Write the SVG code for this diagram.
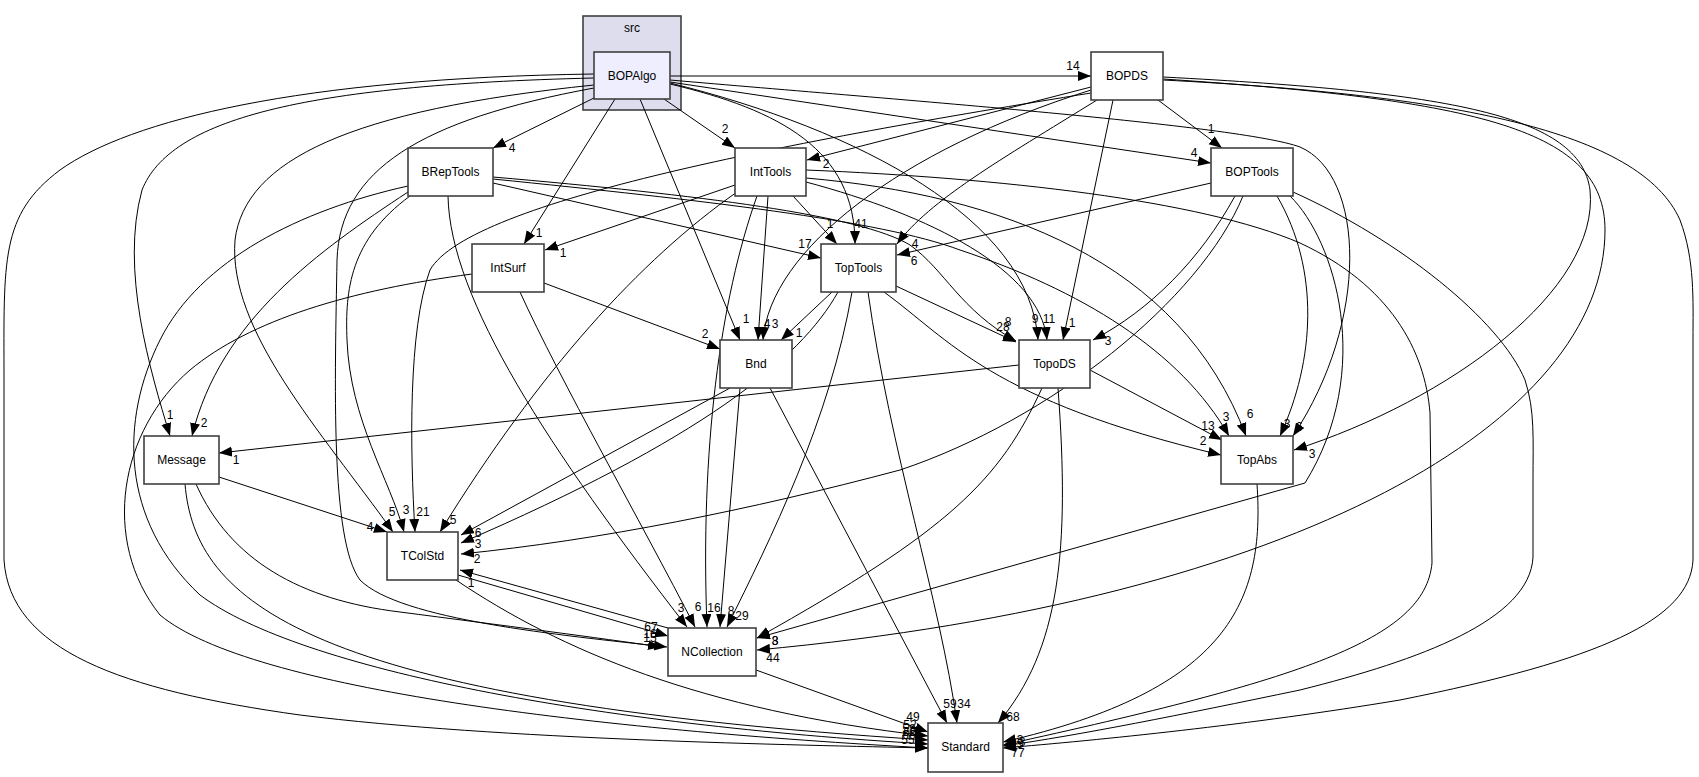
<svg xmlns="http://www.w3.org/2000/svg" width="1699" height="777" viewBox="0 0 1699 777">
<defs>
<marker id="a" markerUnits="userSpaceOnUse" markerWidth="14" markerHeight="11" refX="13" refY="5" orient="auto">
<path d="M0,0 L13,5 L0,10 z" fill="#000"/>
</marker>
<style>
text{font-family:"Liberation Sans",Arial,sans-serif;font-size:12px;fill:#000}
.n rect{fill:#fff;stroke:#404040;stroke-width:1.6}
.n text{text-anchor:middle}
.e path{fill:none;stroke:#000;stroke-width:1;marker-end:url(#a)}
.e text{text-anchor:middle}
</style>
</defs>
<rect width="1699" height="777" fill="#fff"/>
<g id="cluster_src">
<rect x="583" y="16" width="98" height="94" fill="#ddddee" stroke="#404040" stroke-width="1.6"/>
<text x="632" y="32" text-anchor="middle">src</text>
</g>
<g id="edges" class="e">
<path d="M670,76 L1091,76"/><text x="1073" y="70">14</text>
<path d="M596,97 L493,148"/><text x="512" y="152">4</text>
<path d="M664,99 L735,148"/><text x="725" y="133">2</text>
<path d="M615,99 L524,244"/><text x="539" y="237">1</text>
<path d="M640,99 L740,340"/><text x="746" y="323">1</text>
<path d="M670,84 C780,110 855,150 855,244"/><text x="861" y="228">41</text>
<path d="M670,83 C860,130 1030,220 1038,340"/><text x="1035" y="323">9</text>
<path d="M670,82 L1211,163"/><text x="1194" y="157">4</text>
<path d="M670,80 C900,100 1240,125 1300,147 C1365,175 1370,320 1293,436"/><text x="1299" y="431">6</text>
<path d="M594,78 C300,85 170,120 142,190 C120,270 150,370 170,436"/><text x="170" y="419">1</text>
<path d="M594,85 C350,110 245,160 235,240 C228,330 320,430 393,532"/><text x="392" y="516">5</text>
<path d="M594,88 C420,120 340,170 337,260 C335,380 330,540 360,580 C400,620 560,635 667,647"/><text x="650" y="642">15</text>
<path d="M594,74 C300,78 130,120 60,170 C0,215 4,260 4,380 L4,560 C10,650 120,690 300,715 C500,740 800,745 928,748"/><text x="908" y="744">55</text>
<path d="M1091,87 L807,160"/><text x="826" y="168">2</text>
<path d="M1158,100 L1222,148"/><text x="1211" y="133">1</text>
<path d="M1097,100 C1000,160 930,200 897,244"/><text x="915" y="248">4</text>
<path d="M1091,90 C900,150 770,250 763,340"/><text x="775" y="328">3</text>
<path d="M1113,100 L1063,340"/><text x="1072" y="327">1</text>
<path d="M1091,93 C800,140 470,200 430,270 C408,330 410,450 415,532"/><text x="423" y="516">21</text>
<path d="M1163,77 C1450,92 1580,115 1590,190 C1600,290 1450,400 1294,450"/><text x="1312" y="458">3</text>
<path d="M1163,79 C1480,100 1605,130 1605,230 C1605,420 1300,600 757,650"/><text x="773" y="662">44</text>
<path d="M1163,80 C1450,95 1640,130 1680,220 C1695,260 1693,300 1693,340 L1693,560 C1690,620 1600,660 1400,700 C1250,725 1100,740 1003,748"/><text x="1018" y="757">77</text>
<path d="M1211,183 L897,255"/><text x="914" y="265">6</text>
<path d="M1235,196 C1200,260 1150,310 1093,340"/><text x="1108" y="345">3</text>
<path d="M1277,196 C1320,270 1315,360 1280,436"/><text x="1287" y="428">3</text>
<path d="M1243,196 C1200,300 1050,420 900,470 C750,510 600,540 461,554"/><text x="477" y="563">2</text>
<path d="M1290,196 C1335,240 1375,370 1305,483 L757,638"/><text x="775" y="645">3</text>
<path d="M1293,192 C1400,240 1500,320 1525,380 C1535,410 1533,440 1533,480 L1533,557 C1530,620 1420,660 1300,690 C1180,715 1080,735 1003,746"/><text x="1020" y="748">5</text>
<path d="M735,185 L545,250"/><text x="563" y="257">1</text>
<path d="M793,196 L837,244"/><text x="830" y="228">1</text>
<path d="M768,196 L758,340"/><text x="767" y="328">4</text>
<path d="M806,182 C930,215 1040,270 1047,340"/><text x="1049" y="323">11</text>
<path d="M806,178 C1000,195 1180,260 1246,436"/><text x="1250" y="418">6</text>
<path d="M737,192 C640,260 540,370 440,532"/><text x="453" y="524">5</text>
<path d="M757,196 C720,300 700,450 707,627"/><text x="714" y="612">16</text>
<path d="M806,170 C1000,178 1200,200 1300,243 C1390,285 1425,350 1430,413 L1432,563 C1425,640 1300,680 1003,745"/><text x="1020" y="744">3</text>
<path d="M408,192 C320,250 220,320 192,436"/><text x="204" y="427">2</text>
<path d="M410,196 C350,240 345,290 347,340 C350,420 390,480 404,532"/><text x="406" y="514">3</text>
<path d="M448,196 C450,300 550,450 687,627"/><text x="681" y="612">3</text>
<path d="M408,186 C300,210 200,260 160,340 C120,420 120,520 200,595 C300,670 600,725 928,744"/><text x="909" y="739">66</text>
<path d="M493,183 L821,258"/><text x="805" y="248">17</text>
<path d="M493,177 C700,195 860,215 910,245 C945,270 960,310 1016,341"/><text x="1008" y="326">8</text>
<path d="M493,179 C700,200 880,220 960,250 C1080,290 1180,350 1229,436"/><text x="1226" y="421">3</text>
<path d="M544,283 L720,349"/><text x="705" y="338">2</text>
<path d="M520,292 C560,380 640,520 695,627"/><text x="698" y="611">6</text>
<path d="M472,274 C350,290 250,320 190,370 C120,430 100,540 160,615 C250,690 600,730 928,748"/><text x="909" y="733">58</text>
<path d="M730,388 L461,535"/><text x="478" y="537">6</text>
<path d="M740,388 L720,627"/><text x="731" y="615">8</text>
<path d="M770,388 L947,723"/><text x="950" y="708">59</text>
<path d="M832,292 L781,340"/><text x="799" y="337">1</text>
<path d="M896,286 L1016,342"/><text x="1003" y="331">28</text>
<path d="M884,292 C950,340 990,400 1221,455"/><text x="1203" y="445">2</text>
<path d="M838,292 C800,360 700,440 461,543"/><text x="478" y="548">3</text>
<path d="M852,292 C830,420 770,540 727,627"/><text x="742" y="620">29</text>
<path d="M868,292 C890,450 940,600 957,723"/><text x="964" y="708">34</text>
<path d="M1019,365 L219,453"/><text x="236" y="464">1</text>
<path d="M1090,370 L1222,440"/><text x="1208" y="430">13</text>
<path d="M1042,388 C1000,480 950,530 757,638"/><text x="775" y="645">8</text>
<path d="M1058,388 C1070,550 1060,650 998,723"/><text x="1013" y="721">68</text>
<path d="M1257,484 C1265,600 1230,690 1003,742"/><text x="1022" y="746">3</text>
<path d="M219,477 L387,532"/><text x="370" y="531">4</text>
<path d="M196,484 C230,560 300,600 400,612 C500,625 600,638 661,647"/><text x="650" y="638">16</text>
<path d="M185,484 C195,600 300,700 928,740"/><text x="910" y="736">65</text>
<path d="M458,575 L668,636"/><text x="651" y="631">67</text>
<path d="M456,580 C560,650 700,710 928,736"/><text x="910" y="729">52</text>
<path d="M668,628 L460,570"/><text x="471" y="587">1</text>
<path d="M756,670 L928,732"/><text x="913" y="721">49</text>
</g>
<g id="node_BOPAlgo" class="n"><rect x="594" y="52" width="76" height="47" style="fill:#eeeeff"/><text x="632" y="80">BOPAlgo</text></g>
<g id="node_BOPDS" class="n"><rect x="1091" y="52" width="72" height="48"/><text x="1127" y="80">BOPDS</text></g>
<g id="node_BRepTools" class="n"><rect x="408" y="148" width="85" height="48"/><text x="450.5" y="176">BRepTools</text></g>
<g id="node_IntTools" class="n"><rect x="735" y="148" width="71" height="48"/><text x="770.5" y="176">IntTools</text></g>
<g id="node_BOPTools" class="n"><rect x="1211" y="148" width="82" height="48"/><text x="1252" y="176">BOPTools</text></g>
<g id="node_IntSurf" class="n"><rect x="472" y="244" width="72" height="48"/><text x="508" y="272">IntSurf</text></g>
<g id="node_TopTools" class="n"><rect x="821" y="244" width="75" height="48"/><text x="858.5" y="272">TopTools</text></g>
<g id="node_Bnd" class="n"><rect x="720" y="340" width="72" height="48"/><text x="756" y="368">Bnd</text></g>
<g id="node_TopoDS" class="n"><rect x="1019" y="340" width="71" height="48"/><text x="1054.5" y="368">TopoDS</text></g>
<g id="node_Message" class="n"><rect x="144" y="436" width="75" height="48"/><text x="181.5" y="464">Message</text></g>
<g id="node_TopAbs" class="n"><rect x="1221" y="436" width="72" height="48"/><text x="1257" y="464">TopAbs</text></g>
<g id="node_TColStd" class="n"><rect x="387" y="532" width="71" height="48"/><text x="422.5" y="560">TColStd</text></g>
<g id="node_NCollection" class="n"><rect x="668" y="628" width="88" height="48"/><text x="712" y="656">NCollection</text></g>
<g id="node_Standard" class="n"><rect x="928" y="723" width="75" height="49"/><text x="965.5" y="751">Standard</text></g>
</svg>
